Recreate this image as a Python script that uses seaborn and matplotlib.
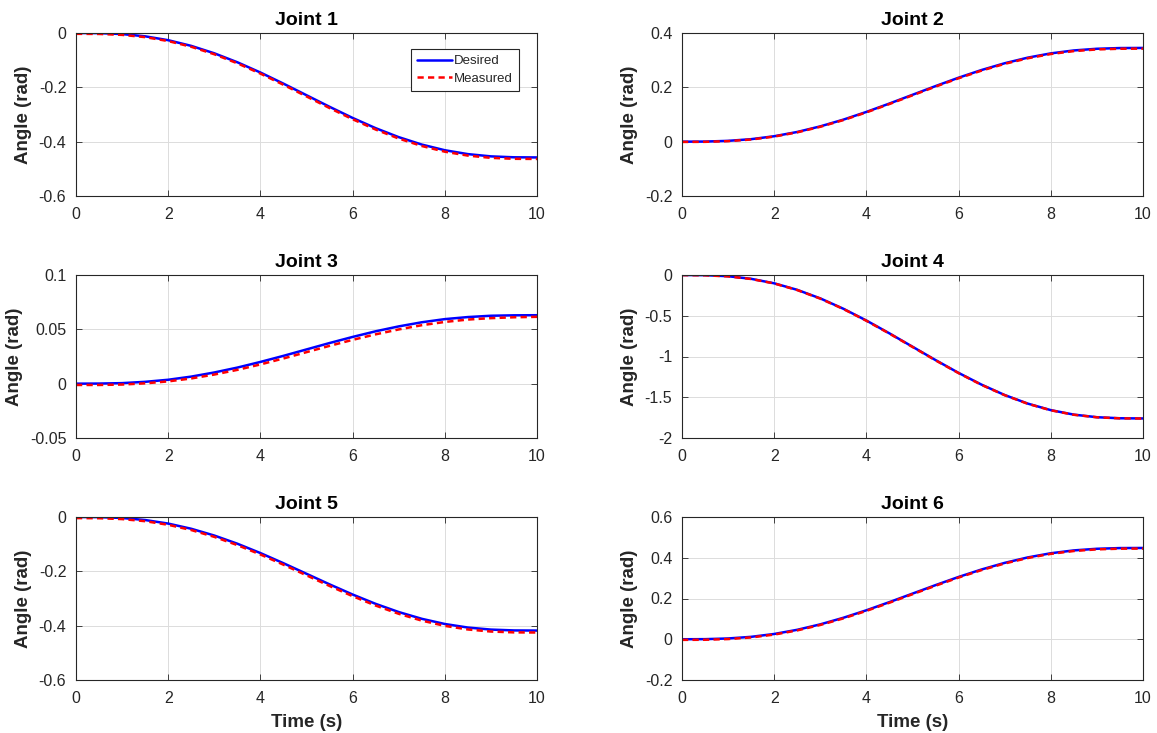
import numpy as np
import pandas as pd
import seaborn as sns
import matplotlib.pyplot as plt
from matplotlib.ticker import FuncFormatter

# sample times (s)
time_s = [0.0, 0.5, 1.0, 1.5, 2.0, 2.5, 3.0, 3.5, 4.0, 4.5, 5.0,
          5.5, 6.0, 6.5, 7.0, 7.5, 8.0, 8.5, 9.0, 9.5, 10.0]

joint1_desired = [0.0, -0.0005, -0.0039, -0.0122, -0.0265, -0.0474, -0.0747, -0.1077, -0.1454, -0.1864, -0.2290,
                  -0.2716, -0.3126, -0.3503, -0.3833, -0.4106, -0.4315, -0.4458, -0.4541, -0.4575, -0.4580]
joint1_measured = [-0.0030, -0.0035, -0.0069, -0.0152, -0.0297, -0.0507, -0.0782, -0.1115, -0.1494, -0.1906, -0.2334,
                   -0.2762, -0.3174, -0.3553, -0.3885, -0.4159, -0.4369, -0.4513, -0.4596, -0.4631, -0.4636]

joint2_desired = [0.0, 0.0004, 0.0030, 0.0092, 0.0200, 0.0357, 0.0563, 0.0811, 0.1095, 0.1404, 0.1725,
                  0.2046, 0.2355, 0.2639, 0.2887, 0.3093, 0.3250, 0.3358, 0.3420, 0.3446, 0.3450]
joint2_measured = [-0.0010, -0.0006, 0.0019, 0.0080, 0.0187, 0.0343, 0.0548, 0.0795, 0.1078, 0.1386, 0.1706,
                   0.2026, 0.2334, 0.2617, 0.2864, 0.3069, 0.3226, 0.3333, 0.3395, 0.3420, 0.3424]

joint3_desired = [0.0, 0.0001, 0.0005, 0.0017, 0.0036, 0.0065, 0.0103, 0.0148, 0.0200, 0.0256, 0.0315,
                  0.0374, 0.0430, 0.0482, 0.0527, 0.0565, 0.0594, 0.0613, 0.0625, 0.0629, 0.0630]
joint3_measured = [-0.0012, -0.0012, -0.0008, 0.0003, 0.0021, 0.0048, 0.0084, 0.0127, 0.0177, 0.0232, 0.0290,
                   0.0348, 0.0403, 0.0454, 0.0499, 0.0538, 0.0568, 0.0590, 0.0603, 0.0611, 0.0615]

joint4_desired = [0.0, -0.0021, -0.0151, -0.0468, -0.1019, -0.1822, -0.2871, -0.4140, -0.5586, -0.7161, -0.8800,
                  -1.0439, -1.2014, -1.3460, -1.4729, -1.5778, -1.6581, -1.7132, -1.7449, -1.7579, -1.7600]
joint4_measured = [-0.002, -0.004, -0.017, -0.049, -0.104, -0.185, -0.290, -0.417, -0.562, -0.719, -0.883,
                   -1.047, -1.204, -1.349, -1.475, -1.580, -1.660, -1.715, -1.746, -1.759, -1.761]

joint5_desired = [0.0, -0.0005, -0.0036, -0.0111, -0.0242, -0.0433, -0.0682, -0.0983, -0.1327, -0.1701, -0.2090,
                  -0.2479, -0.2853, -0.3197, -0.3498, -0.3747, -0.3938, -0.4069, -0.4144, -0.4175, -0.4180]
joint5_measured = [-0.0040, -0.0045, -0.0077, -0.0154, -0.0287, -0.0480, -0.0731, -0.1034, -0.1380, -0.1756, -0.2147,
                   -0.2538, -0.2914, -0.3260, -0.3563, -0.3814, -0.4007, -0.4140, -0.4216, -0.4247, -0.4252]

joint6_desired = [0.0, 0.0005, 0.0039, 0.0119, 0.0259, 0.0464, 0.0731, 0.1054, 0.1422, 0.1823, 0.2240,
                  0.2657, 0.3058, 0.3426, 0.3749, 0.4016, 0.4221, 0.4361, 0.4441, 0.4475, 0.4480]
joint6_measured = [-0.0030, -0.0025, 0.0009, 0.0089, 0.0229, 0.0434, 0.0701, 0.1024, 0.1392, 0.1793, 0.2210,
                   0.2627, 0.3028, 0.3396, 0.3719, 0.3986, 0.4191, 0.4331, 0.4411, 0.4445, 0.4450]

joint_names = ["Joint 1", "Joint 2", "Joint 3", "Joint 4", "Joint 5", "Joint 6"]
desired = [joint1_desired, joint2_desired, joint3_desired, joint4_desired, joint5_desired, joint6_desired]
measured = [joint1_measured, joint2_measured, joint3_measured, joint4_measured, joint5_measured, joint6_measured]

y_limits = [(-0.6, 0.0), (-0.2, 0.4), (-0.05, 0.1), (-2.0, 0.0), (-0.6, 0.0), (-0.2, 0.6)]
y_steps = [0.2, 0.2, 0.05, 0.5, 0.2, 0.2]

rows = []
for name, des, mea in zip(joint_names, desired, measured):
    for t, d, m in zip(time_s, des, mea):
        rows.append((name, t, d, "Desired"))
        rows.append((name, t, m, "Measured"))
df = pd.DataFrame(rows, columns=["Joint", "Time", "Angle", "Signal"])

sns.set_theme(style="whitegrid")
plt.rcParams['font.family'] = ['Liberation Sans', 'DejaVu Sans']
plt.rcParams['axes.unicode_minus'] = False

dark = "#262626"
fig = plt.figure(figsize=(11.57, 7.33), dpi=100)
fig.patch.set_facecolor("white")

lefts = [76 / 1157, 682 / 1157]
bottoms = [1 - 196 / 733, 1 - 438 / 733, 1 - 680 / 733]
w = 461 / 1157
h = 163 / 733

fmt = FuncFormatter(lambda v, p: f"{v:g}" if abs(v) > 1e-9 else "0")

for i, name in enumerate(joint_names):
    r, c = divmod(i, 2)
    ax = fig.add_axes([lefts[c], bottoms[r], w, h])
    sub = df[df["Joint"] == name]
    sns.lineplot(data=sub, x="Time", y="Angle", hue="Signal", style="Signal",
                 palette={"Desired": "#0000ff", "Measured": "#ff0000"},
                 dashes={"Desired": "", "Measured": (2.5, 1.7)},
                 linewidth=1.8, ax=ax, legend=(i == 0))
    ax.set_facecolor("white")
    ax.set_xlim(0, 10)
    ax.set_ylim(*y_limits[i])
    ax.set_xticks(np.arange(0, 10.1, 2))
    lo, hi = y_limits[i]
    ax.set_yticks(np.arange(lo, hi + y_steps[i] / 2, y_steps[i]))
    ax.xaxis.set_major_formatter(fmt)
    ax.yaxis.set_major_formatter(fmt)
    ax.grid(True, color="#dcdcdc", linewidth=0.7)
    for s in ax.spines.values():
        s.set_visible(True)
        s.set_color(dark)
        s.set_linewidth(0.8)
    ax.tick_params(direction="in", length=4, width=0.6, colors=dark, labelsize=11.5,
                   top=True, right=True, bottom=True, left=True)
    ax.tick_params(axis="x", pad=8)
    ax.tick_params(axis="y", pad=7)
    ax.set_title(name, fontsize=14, fontweight="bold", color="black", pad=6)
    ax.set_ylabel("Angle (rad)", fontsize=13.5, fontweight="bold", color=dark, labelpad=5)
    if r == 2:
        ax.set_xlabel("Time (s)", fontsize=13.5, fontweight="bold", color=dark, labelpad=6)
    else:
        ax.set_xlabel("")
    if i == 0:
        leg = ax.legend(loc="upper right", bbox_to_anchor=(1 - 18 / 461, 1 - 16 / 163),
                        borderaxespad=0, fontsize=9.5, handlelength=2.6, handletextpad=0.2,
                        borderpad=0.45, labelspacing=0.4, fancybox=False, framealpha=1)
        leg.get_frame().set_edgecolor(dark)
        leg.get_frame().set_linewidth(0.8)
        for txt in leg.get_texts():
            txt.set_color(dark)
        leg.set_title(None)

fig.savefig("out.png", dpi=100, facecolor="white")
